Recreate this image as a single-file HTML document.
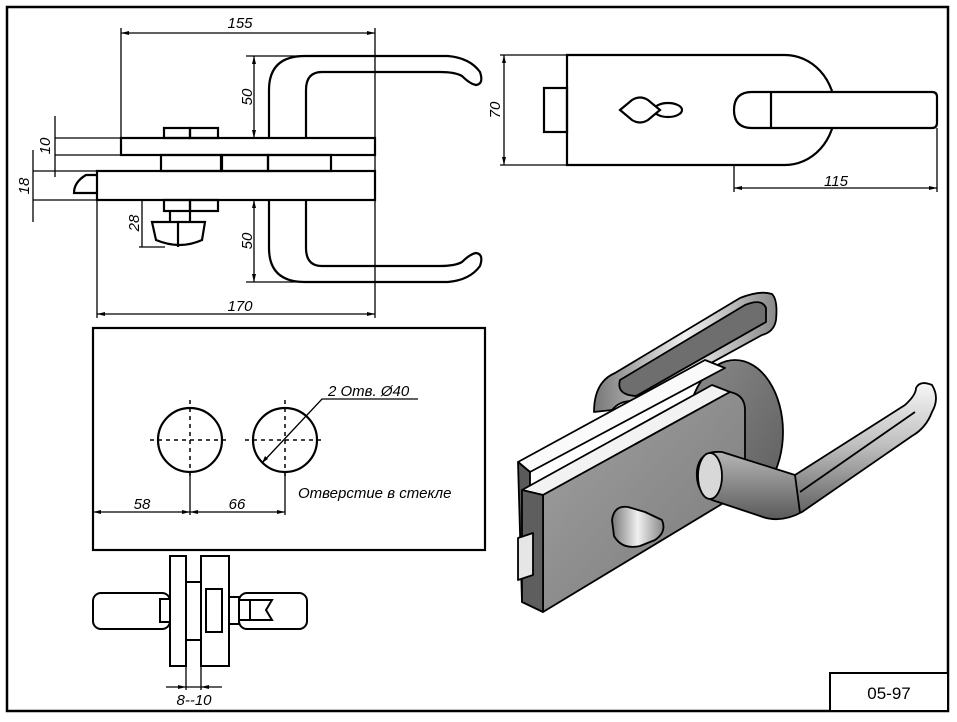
<!DOCTYPE html>
<html><head><meta charset="utf-8"><style>
html,body{margin:0;padding:0;background:#fff}
svg{display:block}
text{font-family:"Liberation Sans",sans-serif;font-style:italic;fill:#000}
</style></head><body>
<svg width="957" height="722" viewBox="0 0 957 722" xmlns="http://www.w3.org/2000/svg">
<defs>
<linearGradient id="g1" x1="0" y1="0" x2="1" y2="1"><stop offset="0" stop-color="#a0a0a0"/><stop offset="1" stop-color="#7a7a7a"/></linearGradient>
<linearGradient id="g2" x1="0" y1="0" x2="0" y2="1"><stop offset="0" stop-color="#f6f6f6"/><stop offset="0.45" stop-color="#c0c0c0"/><stop offset="1" stop-color="#5a5a5a"/></linearGradient>
<linearGradient id="g3" x1="0" y1="0" x2="1" y2="0"><stop offset="0" stop-color="#777"/><stop offset="0.5" stop-color="#f0f0f0"/><stop offset="1" stop-color="#888"/></linearGradient>
<linearGradient id="g4" x1="0" y1="0" x2="1" y2="1"><stop offset="0" stop-color="#8a8a8a"/><stop offset="1" stop-color="#5e5e5e"/></linearGradient>
</defs>
<rect x="7" y="7" width="941" height="704" fill="none" stroke="#000" stroke-width="2.5"/>
<rect x="830" y="673" width="118" height="38" fill="#fff" stroke="#000" stroke-width="2"/>
<text x="889" y="699" font-size="17" text-anchor="middle" style="font-style:normal">05-97</text>

<g fill="none" stroke="#000" stroke-width="2.2">
<rect x="121" y="138" width="254" height="17"/>
<rect x="164" y="128" width="26" height="10"/><rect x="190" y="128" width="28" height="10"/>
<rect x="161" y="155" width="60" height="16"/><rect x="222" y="155" width="46" height="16"/><rect x="268" y="155" width="63" height="16"/>
<rect x="97" y="171" width="278" height="29"/>
<path d="M97,175 H86 Q74,182 74,193 H97"/>
<rect x="164" y="200" width="26" height="11"/><rect x="190" y="200" width="28" height="11"/>
<path d="M170,211 V222 M190,211 V222"/>
<path d="M152,222 H205 L202,240 Q180,250 156,240 Z M178,222 V247"/>
<path d="M269,138 V90 Q269,56 305,56 H448 Q470,58 480,72 Q484,84 476,85 Q470,84 462,76 Q455,72 440,72 H322 Q306,72 306,90 V138"/>
<path d="M269,200 V248 Q269,282 305,282 H448 Q470,280 480,266 Q484,254 476,253 Q470,254 462,262 Q455,266 440,266 H322 Q306,266 306,248 V200"/>
</g>
<g fill="none" stroke="#000" stroke-width="1.3">
<path d="M121,138 V28 M375,138 V28 M121,33 H375 M375,155 V318 M97,200 V318 M97,314 H375"/>
<path d="M254,56 V138 M246,56 H300 M254,200 V282 M246,282 H300"/>
<path d="M55,138 H121 M55,155 H121 M55,116 V177"/>
<path d="M33,171 H97 M33,200 H97 M33,150 V222"/>
<path d="M142,200 V247 M139,247 H165"/>
<path d="M504,55 V165 M500,55 H567 M500,165 H567 M734,128 V192 M937,128 V192 M734,188 H937"/>
<path d="M93,512 H285 M190,472 V515 M285,472 V515"/>
<path d="M262,463 L322,399 H418"/>
<path d="M186,666 V690 M201,666 V690 M166,687 H222"/>
</g>
<g fill="#000">
<path d="M121,33 l8,-2 v4z M375,33 l-8,-2 v4z M97,314 l8,-2 v4z M375,314 l-8,-2 v4z"/>
<path d="M254,56 l-2,8 h4z M254,138 l-2,-8 h4z M254,200 l-2,8 h4z M254,282 l-2,-8 h4z"/>
<path d="M504,55 l-2,8 h4z M504,165 l-2,-8 h4z M734,188 l8,-2 v4z M937,188 l-8,-2 v4z"/>
<path d="M93,512 l8,-2 v4z M190,512 l-8,-2 v4z M190,512 l8,-2 v4z M285,512 l-8,-2 v4z"/>
<path d="M186,687 l-8,-2 v4z M201,687 l8,-2 v4z M262,463 l3,-7 l3,3z"/>
</g>
<g font-size="15">
<text x="240" y="28" text-anchor="middle">155</text>
<text x="240" y="311" text-anchor="middle">170</text>
<text transform="translate(252,97) rotate(-90)" text-anchor="middle">50</text>
<text transform="translate(252,241) rotate(-90)" text-anchor="middle">50</text>
<text transform="translate(50,146) rotate(-90)" text-anchor="middle">10</text>
<text transform="translate(29,186) rotate(-90)" text-anchor="middle">18</text>
<text transform="translate(139,223) rotate(-90)" text-anchor="middle">28</text>
<text transform="translate(500,110) rotate(-90)" text-anchor="middle">70</text>
<text x="836" y="186" text-anchor="middle">115</text>
<text x="142" y="509" text-anchor="middle">58</text>
<text x="237" y="509" text-anchor="middle">66</text>
<text x="328" y="396">2 Отв. Ø40</text>
<text x="298" y="498">Отверстие в стекле</text>
<text x="194" y="705" text-anchor="middle">8--10</text>
</g>

<g fill="none" stroke="#000" stroke-width="2.2">
<path d="M567,55 H785 A50,55 0 0 1 785,165 H567 Z" fill="#fff"/>
<rect x="544" y="88" width="23" height="44"/>
<ellipse cx="668" cy="110" rx="14" ry="7"/>
<path d="M620,110 L632,100 Q640,95 648,100 L660,110 L648,120 Q640,125 632,120 Z" fill="#fff"/>
<path d="M752,92 H932 Q937,92 937,97 V123 Q937,128 932,128 H752 Q734,128 734,110 Q734,92 752,92 Z" fill="#fff"/>
<path d="M771,92 V128"/>
<rect x="93" y="328" width="392" height="222"/>
<circle cx="190" cy="440" r="32"/><circle cx="285" cy="440" r="32"/>
</g>
<g fill="none" stroke="#000" stroke-width="1.5" stroke-dasharray="4,4">
<path d="M150,440 H230 M190,400 V480 M245,440 H325 M285,400 V480"/>
</g>
<g fill="#fff" stroke="#000" stroke-width="2">
<rect x="93" y="593" width="77" height="36" rx="8"/>
<rect x="239" y="593" width="68" height="36" rx="8"/>
<rect x="160" y="599" width="10" height="23"/>
<rect x="170" y="556" width="16" height="110"/>
<rect x="186" y="582" width="15" height="58"/>
<rect x="201" y="556" width="28" height="110"/>
<rect x="206" y="589" width="16" height="43"/>
<rect x="229" y="597" width="10" height="27"/>
<rect x="239" y="600" width="11" height="20"/>
<path d="M250,600 H272 L266,610 L272,620 H250 Z"/>
</g>

<!-- isometric view -->
<g stroke="#000" stroke-width="1.8" stroke-linejoin="round">
<!-- back handle -->
<path d="M594,412 Q594,382 615,373 L740,298 Q760,290 772,294 Q778,300 776,320 Q774,332 762,335 L640,402 Q622,398 612,410 Z" fill="url(#g3)"/>
<path d="M620,380 L745,305 Q762,298 766,308 V322 L636,396 Q616,395 620,380 Z" fill="#6e6e6e"/>
<!-- oval -->
<ellipse cx="735" cy="432" rx="48" ry="72" fill="url(#g4)"/>
<!-- back plate top and side -->
<path d="M518,462 L705,360 L725,368 L530,472 Z" fill="#fafafa"/>
<path d="M518,462 L530,472 V598 L522,602 Z" fill="#5a5a5a"/>
<!-- front plate -->
<path d="M522,490 L712,385 L730,392 L543,495 Z" fill="#f2f2f2"/>
<path d="M543,495 L730,392 Q745,395 745,410 V490 L543,612 Z" fill="url(#g1)"/>
<path d="M522,490 L543,495 V612 L522,602 Z" fill="#5e5e5e"/>
<path d="M518,538 L533,533 V575 L518,580 Z" fill="#e6e6e6"/>
<!-- front handle -->
<path d="M697,470 Q700,450 722,452 L795,475 L905,405 Q916,395 916,388 Q920,380 932,385 Q940,398 932,412 Q926,428 912,436 L802,512 Q780,524 760,516 L712,500 Q695,492 697,470 Z" fill="url(#g2)"/>
<path d="M795,475 L800,513 M800,492 L915,412" fill="none"/>
<ellipse cx="710" cy="476" rx="12" ry="23" fill="#d8d8d8"/>
<!-- thumb turn -->
<path d="M612,520 Q614,505 628,507 L645,512 L662,520 Q667,532 655,540 L640,546 Q622,550 614,536 Z" fill="url(#g3)"/>
</g>
</svg>
</body></html>
